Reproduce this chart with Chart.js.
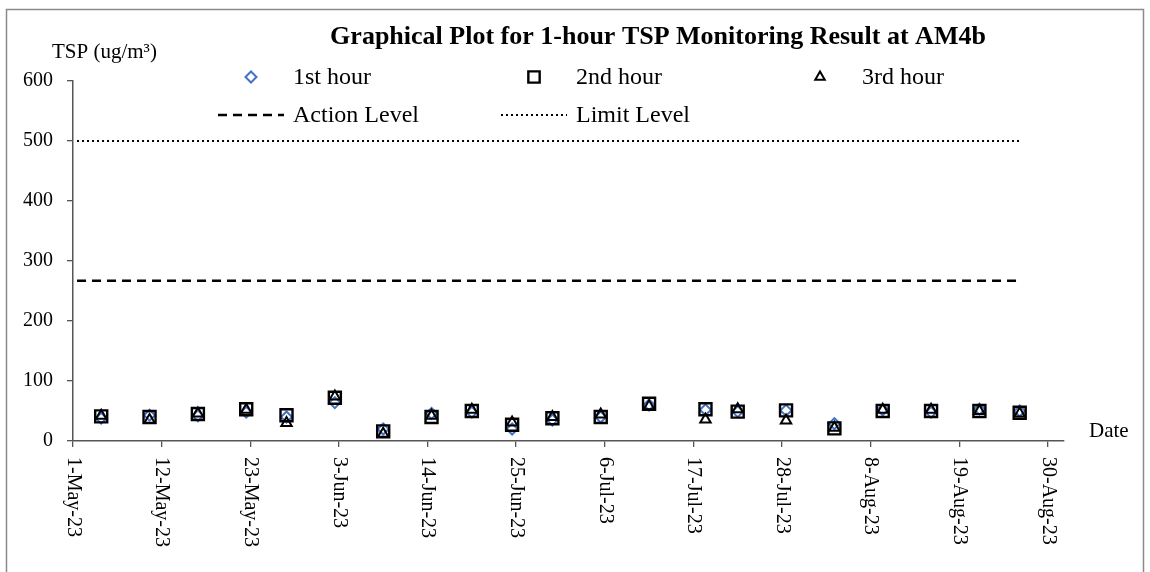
<!DOCTYPE html>
<html lang="en">
<head>
  <meta charset="UTF-8" />
  <title>1-hour TSP Monitoring Result at AM4b</title>
  <script src="https://cdn.jsdelivr.net/npm/chart.js"></script>
  <style>
    body {
      margin: 0;
      background: #fff;
    }
    #wrap {
      position: relative;
      width: 1150px;
      height: 572px;
    }
  </style>
</head>
<body>
  <div id="wrap"><canvas id="tspChart" width="1150" height="572"></canvas></div>

  <script>
    // sampling dates and 1-hour TSP results (ug/m3)
    const sampleDates = ['4-May-23', '10-May-23', '16-May-23', '22-May-23', '27-May-23', '2-Jun-23', '8-Jun-23',
      '14-Jun-23', '19-Jun-23', '24-Jun-23', '29-Jun-23', '5-Jul-23', '11-Jul-23', '18-Jul-23', '22-Jul-23',
      '28-Jul-23', '3-Aug-23', '9-Aug-23', '15-Aug-23', '21-Aug-23', '26-Aug-23'];
    const hour1 = [38, 43, 42, 48, 40, 64, 20, 46, 48, 20, 35, 40, 60, 52, 49, 51, 29, 52, 48, 53, 50];
    const hour2 = [41, 40, 45, 53, 43, 72, 16, 40, 50, 27, 38, 40, 62, 53, 49, 51, 21, 50, 50, 50, 47];
    const hour3 = [42, 35, 46, 52, 30, 74, 12, 42, 52, 31, 40, 44, 58, 36, 53, 34, 22, 52, 52, 50, 46];

    const actionLevel = 267;
    const limitLevel = 500;
    const levelDates = ['1-May-23', '26-Aug-23'];

    const tickLabels = ['1-May-23', '12-May-23', '23-May-23', '3-Jun-23', '14-Jun-23', '25-Jun-23',
      '6-Jul-23', '17-Jul-23', '28-Jul-23', '8-Aug-23', '19-Aug-23', '30-Aug-23'];
    const axisEnd = '1-Sep-23';

    const MONTHS = { Jan: 0, Feb: 1, Mar: 2, Apr: 3, May: 4, Jun: 5, Jul: 6, Aug: 7, Sep: 8, Oct: 9, Nov: 10, Dec: 11 };
    const day0 = Date.UTC(2023, 4, 1);

    // days since 1-May-23
    function dayNum(s) {
      const [d, m, y] = s.split('-');
      return (Date.UTC(2000 + Number(y), MONTHS[m], Number(d)) - day0) / 86400000;
    }

    // excel date axis puts the point in the middle of the day
    function toPoints(dates, values) {
      return dates.map((d, i) => ({ x: dayNum(d) + 0.5, y: Array.isArray(values) ? values[i] : values }));
    }

    const SERIF = "'Liberation Serif', 'Times New Roman', serif";

    const decor = {
      id: 'decor',
      afterDraw(chart) {
        const ctx = chart.ctx;
        const xs = chart.scales.x;
        ctx.save();

        // outer frame
        ctx.strokeStyle = '#8a8a8a';
        ctx.lineWidth = 1.5;
        ctx.strokeRect(6.5, 9.5, 1137, 620);

        // title
        ctx.fillStyle = '#000';
        ctx.font = 'bold 26px ' + SERIF;
        ctx.textAlign = 'center';
        ctx.textBaseline = 'alphabetic';
        ctx.fillText('Graphical Plot for 1-hour TSP Monitoring Result at AM4b', 658, 44);

        // axis titles
        ctx.font = '21px ' + SERIF;
        ctx.textAlign = 'left';
        ctx.fillText('TSP (ug/m³)', 52, 58);
        ctx.textBaseline = 'middle';
        ctx.fillText('Date', 1089, 431);

        // rotated date labels (reading downward)
        ctx.font = '20px ' + SERIF;
        xs.ticks.forEach((t, i) => {
          const x = xs.getPixelForValue(t.value);
          ctx.save();
          ctx.translate(x, 457);
          ctx.rotate(Math.PI / 2);
          ctx.textAlign = 'left';
          ctx.textBaseline = 'middle';
          ctx.fillText(tickLabels[i], 0, 0);
          ctx.restore();
        });

        // legend, three columns
        const cols = [251, 534, 820];
        const rows = [77, 115];
        ctx.font = '24px ' + SERIF;
        chart.data.datasets.forEach((ds, i) => {
          const cx = cols[i % 3];
          const cy = rows[Math.floor(i / 3)];
          ctx.strokeStyle = ds.borderColor;
          ctx.lineWidth = ds.borderWidth;
          if (ds.showLine) {
            ctx.setLineDash(ds.borderDash || []);
            ctx.beginPath();
            ctx.moveTo(cx - 33, cy);
            ctx.lineTo(cx + 33, cy);
            ctx.stroke();
            ctx.setLineDash([]);
          } else {
            ctx.fillStyle = 'rgba(0,0,0,0)';
            Chart.helpers.drawPoint(ctx, {
              pointStyle: ds.pointStyle,
              radius: ds.legendRadius,
              rotation: 0,
              borderWidth: ds.borderWidth
            }, cx, cy);
          }
          ctx.fillStyle = '#000';
          ctx.textAlign = 'left';
          ctx.textBaseline = 'middle';
          ctx.fillText(ds.label, cx + 42, cy + 1);
        });

        ctx.restore();
      }
    };

    const ctx = document.getElementById('tspChart').getContext('2d');
    const tspChart = new Chart(ctx, {
      type: 'scatter',
      data: {
        datasets: [
          {
            label: '1st hour',
            data: toPoints(sampleDates, hour1),
            pointStyle: 'rectRot',
            pointRadius: 5.5,
            legendRadius: 5.5,
            borderColor: '#4472c4',
            backgroundColor: 'rgba(0,0,0,0)',
            borderWidth: 2,
            order: 3
          },
          {
            label: '2nd hour',
            data: toPoints(sampleDates, hour2),
            pointStyle: 'rect',
            pointRadius: 8.5,
            legendRadius: 8,
            borderColor: '#000',
            backgroundColor: 'rgba(0,0,0,0)',
            borderWidth: 2.4,
            order: 2
          },
          {
            label: '3rd hour',
            data: toPoints(sampleDates, hour3),
            pointStyle: 'triangle',
            pointRadius: 6,
            legendRadius: 5.5,
            borderColor: '#000',
            backgroundColor: 'rgba(0,0,0,0)',
            borderWidth: 2,
            order: 1
          },
          {
            label: 'Action Level',
            data: toPoints(levelDates, actionLevel),
            showLine: true,
            pointRadius: 0,
            borderColor: '#000',
            borderWidth: 2.5,
            borderDash: [9, 6],
            order: 0
          },
          {
            label: 'Limit Level',
            data: toPoints(levelDates, limitLevel),
            showLine: true,
            pointRadius: 0,
            borderColor: '#000',
            borderWidth: 2,
            borderDash: [2, 3],
            order: 0
          }
        ]
      },
      options: {
        responsive: false,
        animation: false,
        events: [],
        layout: { padding: { left: 6, top: 81, right: 86, bottom: 0 } },
        plugins: {
          legend: { display: false },
          tooltip: { enabled: false },
          title: { display: false }
        },
        scales: {
          x: {
            type: 'linear',
            min: 0,
            max: dayNum(axisEnd),
            afterBuildTicks: scale => {
              scale.ticks = tickLabels.map(l => ({ value: dayNum(l) }));
            },
            afterFit: scale => { scale.height = 131; },
            ticks: { display: false },
            grid: { drawOnChartArea: false, tickLength: 6, color: '#555', lineWidth: 1.3 },
            border: { color: '#555', width: 1.5 }
          },
          y: {
            min: 0,
            max: 600,
            afterFit: scale => { scale.width = 67; },
            ticks: {
              stepSize: 100,
              color: '#000',
              padding: 14,
              font: { family: SERIF, size: 20 }
            },
            grid: { drawOnChartArea: false, tickLength: 6, color: '#555', lineWidth: 1.3 },
            border: { color: '#555', width: 1.5 }
          }
        }
      },
      plugins: [decor]
    });
  </script>
</body>
</html>
